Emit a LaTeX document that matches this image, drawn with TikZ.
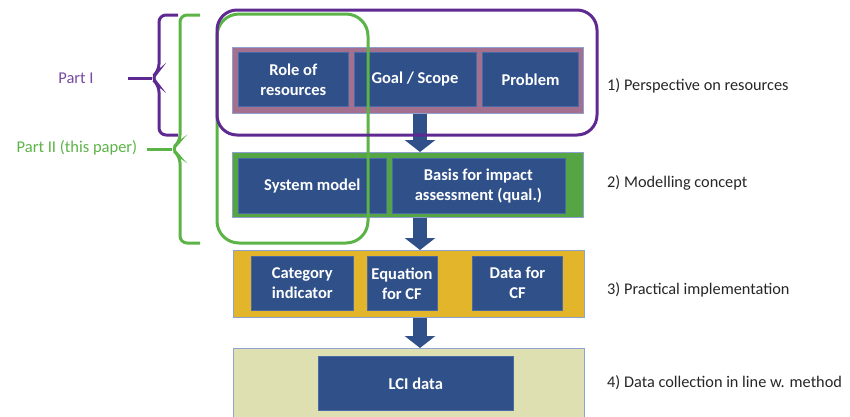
\documentclass[tikz,border=0pt]{standalone}
\usepackage{fontspec}
\setmainfont{Carlito}
\usetikzlibrary{arrows.meta, positioning}
\definecolor{boxblue}{HTML}{2F5089}
\definecolor{boxedge}{HTML}{4A6AA6}
\definecolor{bandedge}{HTML}{8FA2CF}
\definecolor{pinkband}{HTML}{A4708F}
\definecolor{greenband}{HTML}{56A545}
\definecolor{yellowband}{HTML}{E3B52B}
\definecolor{paleband}{HTML}{DEE0B2}
\definecolor{partpurple}{HTML}{5E2A91}
\definecolor{partgreen}{HTML}{5CB347}
\definecolor{labelgray}{HTML}{262626}

\begin{document}
\begin{tikzpicture}[x = 1pt, y = -1pt, node distance = 5pt and 5pt]
        \tikzstyle{band} = [draw = bandedge, line width = 1pt, anchor = north west, inner sep = 0pt]
        \tikzstyle{item} = [fill = boxblue, draw = boxedge, line width = 0.6pt, text = white, inner sep = 0pt,
          font = \bfseries\fontsize{16.5}{20}\selectfont, align = center, anchor = north west, minimum height = 54pt]
        \tikzstyle{levellabel} = [anchor = west, inner sep = 0pt, text = labelgray, font = \fontsize{16.3}{20}\selectfont]
        \tikzstyle{flow} = [line width = 14pt, boxblue, -{Triangle[width = 30pt, length = 12pt]}]
        \tikzstyle{partone} = [line width = 3pt, partpurple, rounded corners = 7pt]
        \tikzstyle{parttwo} = [line width = 3pt, partgreen, rounded corners = 7pt]
        \useasboundingbox (0,0) rectangle (850,416);
        % bands
        \node[band, fill = pinkband, minimum width = 351pt, minimum height = 66pt] (b1) at (232,47) {};
        \node[band, fill = greenband, minimum width = 351pt, minimum height = 65pt] (b2) at (232,152) {};
        \node[band, fill = yellowband, minimum width = 351pt, minimum height = 67pt] (b3) at (233,250) {};
        \node[band, fill = paleband, minimum width = 351pt, minimum height = 80pt] (b4) at (233,348) {};
        % boxes
        \node[item, minimum width = 110pt] (role) at (238,52) {Role of\\resources};
        \node[item, minimum width = 122pt, right = 5pt of role] (goal) {Goal / Scope};
        \node[item, minimum width = 96pt, right = 6pt of goal] (problem) {Problem};
        \node[item, minimum width = 148pt, minimum height = 55pt] (sys) at (238,158) {System model};
        \node[item, minimum width = 173pt, minimum height = 55pt, right = 5pt of sys] (basis) {Basis for impact\\assessment (qual.)};
        \node[item, minimum width = 102pt] (cat) at (251,256) {Category\\indicator};
        \node[item, minimum width = 70pt, right = 13pt of cat] (eq) {Equation\\for CF};
        \node[item, minimum width = 90pt, right = 35pt of eq] (data) {Data for\\CF};
        \node[item, minimum width = 195pt] (lci) at (318,356) {LCI data};
        % arrows between levels
        \draw[flow] ([xshift = 12pt]b1.south) -- ([xshift = 12pt]b2.north);
        \draw[flow] ([xshift = 12pt]b2.south) -- ([xshift = 11pt]b3.north);
        \draw[flow] ([xshift = 11pt]b3.south) -- ([xshift = 11pt]b4.north);
        % level labels
        \node[levellabel] (l1) at (607,86) {1) Perspective on resources};
        \node[levellabel] (l2) at (607,183) {2) Modelling concept};
        \node[levellabel] (l3) at (607,290) {3) Practical implementation};
        \node[levellabel] (l4) at (607,383) {4) Data collection in line w. method};
        % parts
        \draw[line width = 3pt, partgreen, rounded corners = 22pt] (217,14) rectangle (368,243);
        \draw[line width = 3pt, partpurple, rounded corners = 20pt] (217,10) rectangle (597,135);
        \node[text = partpurple!85!white, font = \fontsize{16.5}{20}\selectfont] (partI) at (76,78) {Part I};
        \node[text = partgreen, font = \fontsize{16.5}{20}\selectfont] (partII) at (77,148) {Part II (this paper)};
        \coordinate (tipI) at (128,78);
        \coordinate (tipII) at (147,149);
        \draw[partone] (178,15) -- (159,15) -- (159,71) -- (151,78) -- (159,85) -- (159,135) -- (178,135);
        \draw[partone, rounded corners = 0pt] (tipI) -- (152,78);
        \draw[parttwo] (200,15) -- (180,15) -- (180,142) -- (171,149) -- (180,156) -- (180,243) -- (200,243);
        \draw[parttwo, rounded corners = 0pt] (tipII) -- (172,149);
      \end{tikzpicture}
\end{document}
